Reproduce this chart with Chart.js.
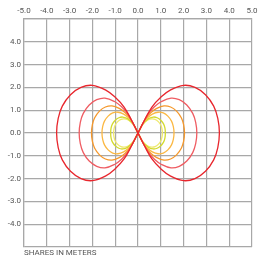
<!DOCTYPE html>
<html><head><meta charset="utf-8">
<script src="https://cdn.jsdelivr.net/npm/chart.js@4"></script>
<style>html,body{margin:0;padding:0;background:#fff;overflow:hidden}</style>
</head><body>
<canvas id="c" width="261" height="259"></canvas>
<script>
// Axis ticks
const xTickValues = [-5, -4, -3, -2, -1, 0, 1, 2, 3, 4, 5];
const yTickValues = [-5, -4, -3, -2, -1, 0, 1, 2, 3, 4, 5];
const axisTitle = 'SHARES IN METERS';

// Contour lobes: upper-right quadrant points (x, y)
const redX    = [0, 0.29, 0.61, 1.00, 1.43, 2.00, 2.50, 2.96, 3.32, 3.50, 3.57];
const redY    = [0, 0.57, 1.14, 1.57, 1.89, 2.09, 2.00, 1.68, 1.18, 0.64, 0];
const salmonX = [0, 0.21, 0.44, 0.72, 1.03, 1.45, 1.81, 2.14, 2.40, 2.53, 2.58];
const salmonY = [0, 0.41, 0.83, 1.15, 1.38, 1.53, 1.46, 1.23, 0.86, 0.47, 0];
const orangeX = [0, 0.16, 0.35, 0.57, 0.82, 1.14, 1.43, 1.69, 1.90, 2.00, 2.04];
const orangeY = [0, 0.33, 0.65, 0.90, 1.08, 1.19, 1.14, 0.96, 0.67, 0.37, 0];
const amberX  = [0, 0.13, 0.27, 0.44, 0.63, 0.88, 1.11, 1.31, 1.47, 1.55, 1.58];
const amberY  = [0, 0.25, 0.50, 0.69, 0.83, 0.91, 0.88, 0.74, 0.52, 0.28, 0];
const limeX   = [0, 0.10, 0.20, 0.34, 0.48, 0.67, 0.84, 1.00, 1.12, 1.18, 1.20];
const limeY   = [0, 0.19, 0.38, 0.53, 0.64, 0.70, 0.67, 0.56, 0.40, 0.22, 0];
const paleX   = [0, 0.09, 0.18, 0.30, 0.43, 0.60, 0.75, 0.89, 1.00, 1.05, 1.07];
const paleY   = [0, 0.17, 0.34, 0.47, 0.57, 0.62, 0.60, 0.50, 0.35, 0.19, 0];

const curves = [
  {xs: redX, ys: redY, color: '#e8262d'},
  {xs: salmonX, ys: salmonY, color: '#ef5c62'},
  {xs: orangeX, ys: orangeY, color: '#f5982b'},
  {xs: amberX, ys: amberY, color: '#fbb843'},
  {xs: limeX, ys: limeY, color: '#d3da30'},
  {xs: paleX, ys: paleY, color: '#efe96e'}
];

function lobe(xs, ys, side) {
  const pts = [];
  for (let i = 0; i < xs.length; i++) pts.push({x: side * xs[i], y: ys[i]});
  for (let i = xs.length - 2; i >= 0; i--) pts.push({x: side * xs[i], y: -ys[i]});
  return pts;
}

const datasets = [];
curves.forEach(c => {
  [1, -1].forEach(side => {
    datasets.push({
      data: lobe(c.xs, c.ys, side),
      showLine: true,
      borderColor: c.color,
      borderWidth: 1.3,
      pointRadius: 0,
      tension: 0.4,
      fill: false
    });
  });
});

const bottomTitle = {
  id: 'bottomTitle',
  afterDraw(chart) {
    const ctx = chart.ctx;
    ctx.save();
    ctx.font = '8px Roboto, "Liberation Sans", sans-serif';
    ctx.fillStyle = '#555';
    ctx.textBaseline = 'middle';
    ctx.textAlign = 'left';
    ctx.fillText(axisTitle, chart.chartArea.left, 252.5);
    ctx.restore();
  }
};

const tickFont = {family: 'Roboto, "Liberation Sans", sans-serif', size: 8};

new Chart(document.getElementById('c'), {
  type: 'scatter',
  data: {datasets},
  options: {
    responsive: false,
    animation: false,
    layout: {padding: {left: 0, right: 9, top: 0, bottom: 12}},
    plugins: {legend: {display: false}, tooltip: {enabled: false}},
    scales: {
      x: {
        type: 'linear', position: 'top', min: -5, max: 5,
        afterBuildTicks: s => { s.ticks = xTickValues.map(v => ({value: v})); },
        afterFit: s => { s.height = 19; },
        ticks: {font: tickFont, color: '#555', padding: 3, maxRotation: 0, autoSkip: false,
                callback: v => v.toFixed(1)},
        grid: {color: '#a8a8a8', lineWidth: 1.2, drawTicks: false},
        border: {color: '#a8a8a8', width: 1.2}
      },
      y: {
        type: 'linear', min: -5, max: 5,
        afterBuildTicks: s => { s.ticks = yTickValues.map(v => ({value: v})); },
        afterFit: s => { s.width = 24; },
        ticks: {font: tickFont, color: '#555', padding: 3, autoSkip: false,
                callback: v => (Math.abs(v) === 5 ? '' : v.toFixed(1))},
        grid: {color: '#a8a8a8', lineWidth: 1.2, drawTicks: false},
        border: {color: '#a8a8a8', width: 1.2}
      }
    }
  },
  plugins: [bottomTitle]
});
</script>
</body></html>
